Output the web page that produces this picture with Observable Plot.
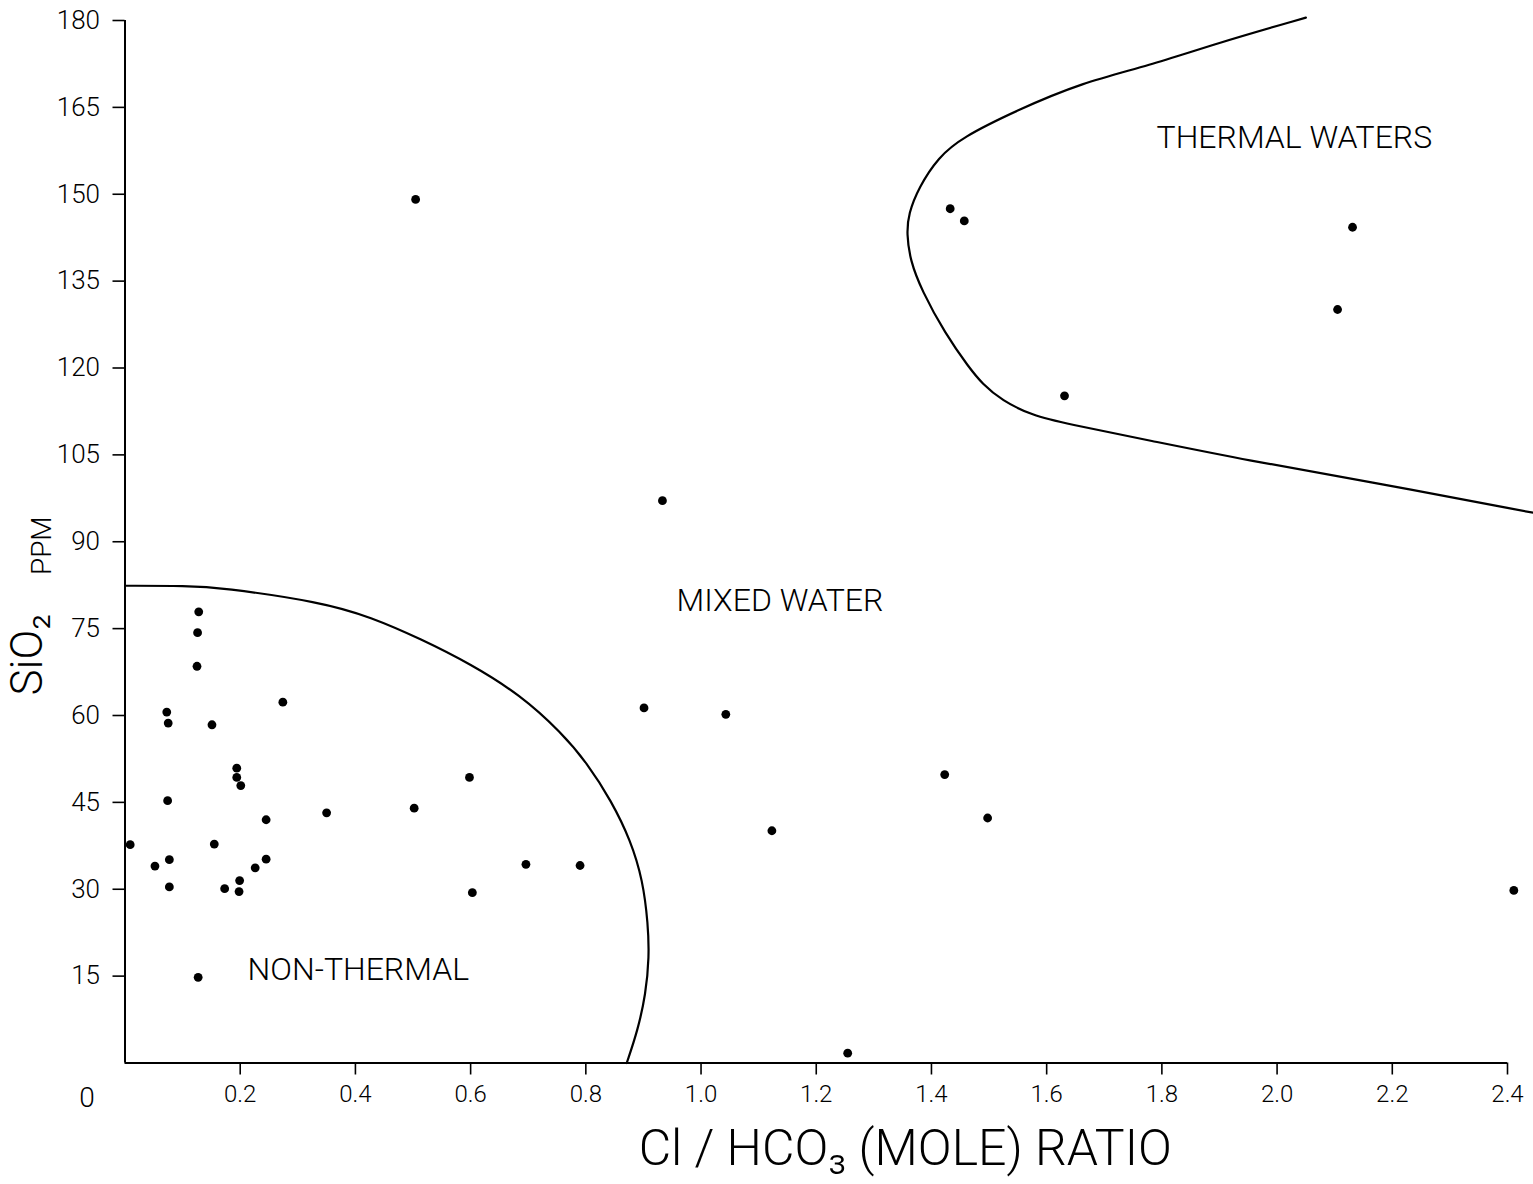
<!DOCTYPE html>
<html>
<head>
<meta charset="utf-8">
<script src="https://cdn.jsdelivr.net/npm/d3@7"></script>
<script src="https://cdn.jsdelivr.net/npm/@observablehq/plot@0.6"></script>
<style>
html, body { margin: 0; padding: 0; background: #fff; }
#chart svg { display: block; }
</style>
</head>
<body>
<div id="chart"></div>
<script>
// Sample points: Cl/HCO3 mole ratio vs SiO2 ppm
const ratio = [
  0.128, 0.126, 0.125, 0.274, 0.0725, 0.075, 0.151, 0.194, 0.194, 0.201,
  0.598, 0.074, 0.502, 0.350, 0.245, 0.009, 0.155, 0.077, 0.052, 0.245,
  0.226, 0.199, 0.077, 0.173, 0.198, 0.603, 0.127, 0.696, 0.790, 0.901,
  1.043, 1.123, 1.423, 1.4975, 1.2546, 2.411, 0.5045, 0.933, 1.4325, 1.457,
  1.631, 2.131, 2.105
];
const silica = [
  77.9, 74.3, 68.5, 62.3, 60.6, 58.7, 58.4, 50.9, 49.3, 47.9,
  49.3, 45.3, 44.0, 43.2, 42.0, 37.7, 37.8, 35.1, 34.0, 35.2,
  33.7, 31.5, 30.4, 30.1, 29.6, 29.4, 14.8, 34.3, 34.1, 61.3,
  60.2, 40.1, 49.8, 42.3, 1.7, 29.8, 149.1, 97.1, 147.5, 145.4,
  115.2, 144.3, 130.1
];

// Boundary of the non-thermal field
const nonThermalX = [0, 0.108, 0.166, 0.340, 0.427, 0.514, 0.600, 0.687, 0.757, 0.803, 0.844, 0.878, 0.899, 0.908, 0.910, 0.904, 0.890, 0.871];
const nonThermalY = [82.4, 82.4, 82.1, 79.6, 77.0, 73.2, 68.9, 63.5, 57.1, 51.7, 45.3, 38.4, 31.5, 24.0, 18.3, 11.9, 5.6, 0];

// Boundary of the thermal-water field
const thermalX = [2.050, 1.893, 1.778, 1.662, 1.546, 1.453, 1.412, 1.378, 1.360, 1.357, 1.363, 1.383, 1.424, 1.465, 1.488, 1.522, 1.575, 1.633, 1.778, 1.951, 2.149, 2.450];
const thermalY = [180.5, 176.0, 172.2, 169.3, 164.4, 159.8, 156.4, 151.2, 146.6, 143.2, 138.6, 133.4, 125.9, 120.1, 117.3, 114.4, 111.8, 110.4, 107.5, 104.0, 100.6, 94.9];

// Region labels
const regionLabels = ["NON-THERMAL", "MIXED WATER", "THERMAL WATERS"];
const regionX = [0.405, 1.137, 2.030];
const regionY = [16.1, 79.8, 159.7];

// Axis ticks and titles
const xTicks = [0.2, 0.4, 0.6, 0.8, 1.0, 1.2, 1.4, 1.6, 1.8, 2.0, 2.2, 2.4];
const yTicks = [15, 30, 45, 60, 75, 90, 105, 120, 135, 150, 165, 180];
const originLabel = "0";
const xTitle = "Cl / HCO₃ (MOLE) RATIO";
const yTitleMain = "SiO₂";
const yTitleUnit = "PPM";

const points = ratio.map((r, i) => ({r, s: silica[i]}));
const nonThermal = nonThermalX.map((x, i) => ({x, y: nonThermalY[i]}));
const thermal = thermalX.map((x, i) => ({x, y: thermalY[i]}));
const regions = regionLabels.map((t, i) => ({t, x: regionX[i], y: regionY[i]}));

const font = "Roboto, 'Open Sans', 'DejaVu Sans', sans-serif";

const chart = Plot.plot({
  width: 1533,
  height: 1184,
  marginLeft: 124.5,
  marginRight: 26,
  marginTop: 20,
  marginBottom: 121.5,
  style: {fontFamily: font, fontWeight: 300, background: "white", color: "black"},
  x: {domain: [0, 2.4]},
  y: {domain: [0, 180]},
  marks: [
    Plot.ruleX([0], {stroke: "black", strokeWidth: 2}),
    Plot.ruleY([0], {stroke: "black", strokeWidth: 2}),
    Plot.axisX({ticks: xTicks, tickSize: 12, tickPadding: 10, fontSize: 24, tickFormat: d3.format(".1f"), label: null, strokeWidth: 1.6}),
    Plot.axisY({ticks: yTicks, tickSize: 12, tickPadding: 13, fontSize: 26, label: null, strokeWidth: 1.6}),
    Plot.text([originLabel], {frameAnchor: "bottom-left", text: d => d, dx: -38, dy: 35, fontSize: 28, textAnchor: "middle", lineAnchor: "middle"}),
    Plot.line(nonThermal, {x: "x", y: "y", curve: "basis", stroke: "black", strokeWidth: 2.2}),
    Plot.line(thermal, {x: "x", y: "y", curve: "basis", stroke: "black", strokeWidth: 2.2}),
    Plot.dot(points, {x: "r", y: "s", r: 4.4, fill: "black", stroke: "none"}),
    Plot.text(regions, {x: "x", y: "y", text: "t", fontSize: 32, textAnchor: "middle", lineAnchor: "middle"}),
    Plot.text([xTitle], {frameAnchor: "bottom", text: d => d, dx: 89, dy: 86, fontSize: 50, textAnchor: "middle", lineAnchor: "middle"}),
    Plot.text([yTitleMain], {frameAnchor: "left", text: d => d, rotate: -90, dx: -97, dy: 113, fontSize: 44, textAnchor: "middle", lineAnchor: "middle"}),
    Plot.text([yTitleUnit], {frameAnchor: "left", text: d => d, rotate: -90, dx: -83, dy: 4, fontSize: 28, textAnchor: "middle", lineAnchor: "middle"})
  ]
});

document.getElementById("chart").appendChild(chart);
</script>
</body>
</html>
